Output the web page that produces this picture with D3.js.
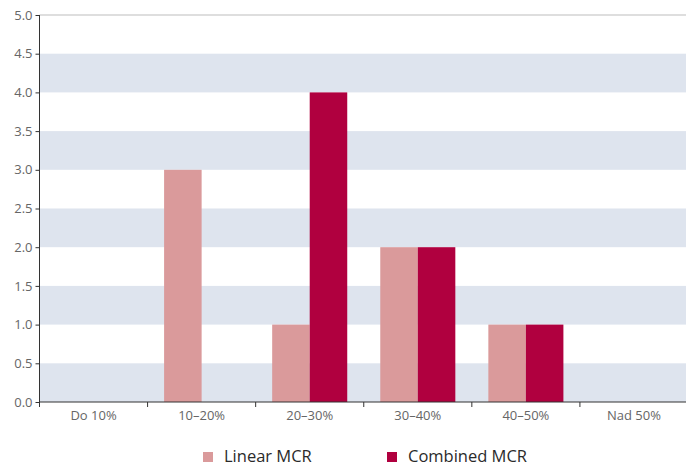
<!DOCTYPE html>
<html>
<head>
<meta charset="utf-8">
<script src="https://cdn.jsdelivr.net/npm/d3@7"></script>
<style>
  html, body { margin: 0; padding: 0; background: #fff; }
  svg { display: block; font-family: "Open Sans", "Noto Sans", sans-serif; }
</style>
</head>
<body>
<svg id="chart" width="686" height="467"></svg>
<script>
// Chart data
const categories = ["Do 10%", "10–20%", "20–30%", "30–40%", "40–50%", "Nad 50%"];
const seriesNames = ["Linear MCR", "Combined MCR"];
const linearValues = [0, 3, 1, 2, 1, 0];
const combinedValues = [0, 0, 4, 2, 1, 0];
const yTicks = [0, 0.5, 1, 1.5, 2, 2.5, 3, 3.5, 4, 4.5, 5];
const colors = ["#da9a9b", "#b0003f"];

const svg = d3.select("#chart");
const margin = { left: 39.5, right: -2, top: 15, bottom: 65 };
const W = 686, H = 467;
const x0 = margin.left, x1 = W - margin.right;
const yTop = margin.top, yBot = H - margin.bottom;

const x = d3.scaleBand().domain(categories).range([x0, x1]).paddingInner(0).paddingOuter(0);
const xs = d3.scaleBand().domain(seriesNames).range([0, x.bandwidth()]).paddingOuter(0.44).paddingInner(0);
const y = d3.scaleLinear().domain([0, 5]).range([yBot, yTop]);

// alternating horizontal bands
const bands = yTicks.filter((d, i) => i % 2 === 1);
svg.append("g").selectAll("rect").data(bands).join("rect")
  .attr("x", x0).attr("width", x1 - x0)
  .attr("y", d => y(d))
  .attr("height", d => y(d - 0.5) - y(d))
  .attr("fill", "#dee4ee");

// top border line
svg.append("line")
  .attr("x1", x0).attr("x2", x1)
  .attr("y1", y(5)).attr("y2", y(5))
  .attr("stroke", "#bdbdbd").attr("stroke-width", 1);

// bars
const rows = categories.map((c, i) => ({ c, vals: [linearValues[i], combinedValues[i]] }));
const groups = svg.append("g").selectAll("g").data(rows).join("g")
  .attr("transform", d => `translate(${x(d.c)},0)`);
groups.selectAll("rect")
  .data(d => d.vals.map((v, j) => ({ s: seriesNames[j], v, j })).filter(e => e.v > 0))
  .join("rect")
  .attr("x", d => xs(d.s))
  .attr("width", xs.bandwidth())
  .attr("y", d => y(d.v))
  .attr("height", d => y(0) - y(d.v))
  .attr("fill", d => colors[d.j]);

// y axis
const yAxis = svg.append("g")
  .attr("transform", `translate(${x0},0)`)
  .call(d3.axisLeft(y).tickValues(yTicks).tickFormat(d3.format(".1f")).tickSize(4).tickPadding(3));
yAxis.select(".domain").attr("stroke", "#333").attr("d", `M0,${yTop}V${yBot}`);
yAxis.selectAll(".tick line").attr("stroke", "#333");
yAxis.selectAll("text").attr("fill", "#666").style("font-size", "13px").style("font-family", "'Open Sans', sans-serif");

// x axis
const xAxis = svg.append("g")
  .attr("transform", `translate(0,${yBot})`)
  .call(d3.axisBottom(x).tickSize(0).tickPadding(9));
xAxis.select(".domain").attr("stroke", "#333").attr("d", `M${x0},0H${x1}`);
xAxis.selectAll("text").attr("fill", "#666").style("font-size", "13px").style("font-family", "'Open Sans', sans-serif");
// category boundary ticks
svg.append("g").selectAll("line").data(categories).join("line")
  .attr("x1", d => x(d)).attr("x2", d => x(d))
  .attr("y1", yBot).attr("y2", yBot + 5)
  .attr("stroke", "#333");

// legend
const legend = svg.append("g");
const legendX = [203, 387];
seriesNames.forEach((s, i) => {
  const g = legend.append("g").attr("transform", `translate(${legendX[i]},452)`);
  g.append("rect").attr("width", 10).attr("height", 10).attr("fill", colors[i]);
  g.append("text").attr("x", 21).attr("y", 10)
    .attr("fill", "#2a2a2a").style("font-size", "16.5px").text(s);
});
</script>
</body>
</html>
